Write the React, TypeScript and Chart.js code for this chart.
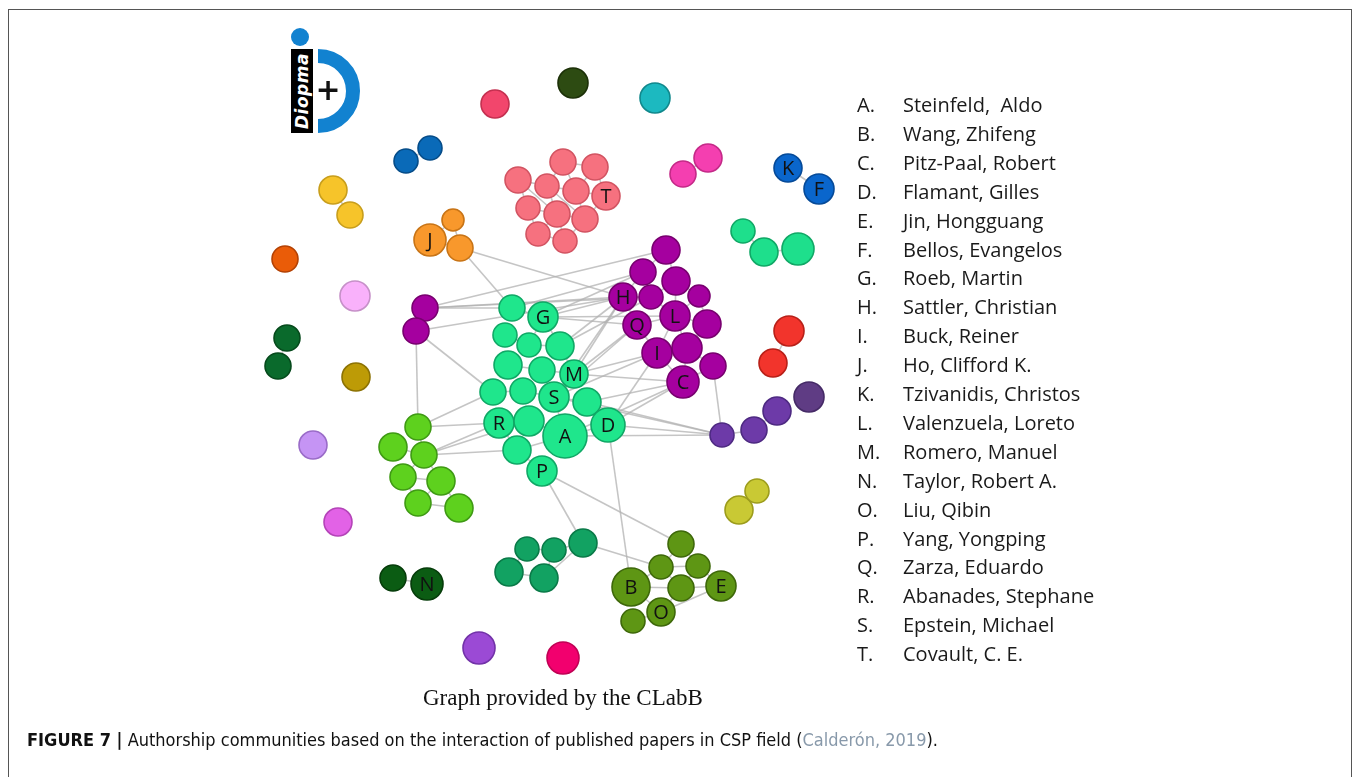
import React, { useEffect, useRef } from "react";
import { Chart, registerables } from "chart.js";
Chart.register(...registerables);

// [id, x, y, radius]  — single capital-letter ids carry a label
type NodeRow = [string, number, number, number];

const centralGreen: NodeRow[] = [
  ["c1", 512, 308, 13], ["G", 543, 317, 15], ["c2", 505, 335, 12], ["c3", 529, 345, 12],
  ["c4", 560, 346, 14], ["c5", 508, 365, 14], ["c6", 542, 370, 13], ["M", 574, 374, 14],
  ["c7", 493, 392, 13], ["c8", 523, 391, 13], ["S", 554, 397, 15], ["c9", 587, 402, 14],
  ["R", 499, 423, 15], ["c10", 529, 421, 15], ["A", 565, 436, 22], ["D", 608, 425, 17],
  ["c11", 517, 450, 14], ["P", 542, 471, 15],
];
const magenta: NodeRow[] = [
  ["m1", 666, 250, 14], ["m2", 643, 272, 13], ["m3", 676, 281, 14], ["H", 623, 297, 14],
  ["m4", 651, 297, 12], ["m5", 699, 296, 11], ["L", 675, 316, 15], ["Q", 637, 325, 14],
  ["m6", 707, 324, 14], ["I", 657, 353, 15], ["m7", 687, 348, 15], ["m8", 713, 366, 13],
  ["C", 683, 382, 16],
];
const magentaPair: NodeRow[] = [["lm1", 425, 308, 13], ["lm2", 416, 331, 13]];
const lightGreen: NodeRow[] = [
  ["lg1", 418, 427, 13], ["lg2", 393, 447, 14], ["lg3", 424, 455, 13], ["lg4", 403, 477, 13],
  ["lg5", 441, 481, 14], ["lg6", 418, 503, 13], ["lg7", 459, 508, 14],
];
const purpleChain: NodeRow[] = [["pu1", 722, 435, 12], ["pu2", 754, 430, 13], ["pu3", 777, 411, 14]];
const purpleDark: NodeRow[] = [["pu4", 809, 397, 15]];
const tealGreen: NodeRow[] = [
  ["tg1", 527, 549, 12], ["tg2", 554, 550, 12], ["tg3", 583, 543, 14], ["tg4", 509, 572, 14], ["tg5", 544, 578, 14],
];
const olive: NodeRow[] = [
  ["o1", 681, 544, 13], ["o2", 661, 567, 12], ["o3", 698, 566, 12], ["B", 631, 587, 19],
  ["o4", 681, 588, 13], ["E", 721, 586, 15], ["O", 661, 612, 14], ["o5", 633, 621, 12],
];
const orangeJ: NodeRow[] = [["J", 430, 240, 16], ["j1", 453, 220, 11], ["j2", 460, 248, 13]];
const salmon: NodeRow[] = [
  ["pk1", 563, 162, 13], ["pk2", 595, 167, 13], ["pk3", 518, 180, 13], ["pk4", 547, 186, 12],
  ["pk5", 576, 191, 13], ["T", 606, 196, 14], ["pk6", 528, 208, 12], ["pk7", 557, 214, 13],
  ["pk8", 585, 219, 13], ["pk9", 538, 234, 12], ["pk10", 565, 241, 12],
];
const blueKF: NodeRow[] = [["K", 788, 168, 14], ["F", 819, 189, 15]];
const mintTrio: NodeRow[] = [["t1", 743, 231, 12], ["t2", 764, 252, 14], ["t3", 798, 249, 16]];
const redPair: NodeRow[] = [["r1", 789, 331, 15], ["r2", 773, 363, 14]];
const pinkPair: NodeRow[] = [["pp1", 683, 174, 13], ["pp2", 708, 158, 14]];
const tealSingle: NodeRow[] = [["ts", 655, 98, 15]];
const darkGreenTop: NodeRow[] = [["dg", 573, 83, 15]];
const roseSingle: NodeRow[] = [["rs", 495, 104, 14]];
const bluePair: NodeRow[] = [["bp1", 406, 161, 12], ["bp2", 430, 148, 12]];
const yellowPair: NodeRow[] = [["y1", 333, 190, 14], ["y2", 350, 215, 13]];
const orangeSingle: NodeRow[] = [["os", 285, 259, 13]];
const lightPink: NodeRow[] = [["lp", 355, 296, 15]];
const forestPair: NodeRow[] = [["fp1", 287, 338, 13], ["fp2", 278, 366, 13]];
const ochre: NodeRow[] = [["oc", 356, 377, 14]];
const lavender: NodeRow[] = [["lv", 313, 445, 14]];
const orchid: NodeRow[] = [["or", 338, 522, 14]];
const darkGreenN: NodeRow[] = [["dn1", 393, 578, 13], ["N", 427, 584, 16]];
const violet: NodeRow[] = [["vi", 479, 648, 16]];
const hotPink: NodeRow[] = [["hp", 563, 658, 16]];
const yellowGreen: NodeRow[] = [["yg1", 739, 510, 14], ["yg2", 757, 491, 12]];

const edges: [string, string][] = [
  // between communities
  ["j2", "H"], ["j2", "c1"], ["lm1", "m1"], ["lm1", "H"], ["lm1", "c1"], ["lm1", "m4"],
  ["lm2", "H"], ["lm2", "c7"], ["lm2", "lg1"], ["lm1", "lm2"], ["c1", "m2"],
  ["G", "H"], ["G", "m2"], ["G", "Q"], ["G", "L"], ["M", "H"], ["M", "Q"], ["M", "I"], ["M", "C"],
  ["S", "H"], ["S", "Q"], ["S", "I"], ["c9", "C"], ["D", "C"], ["D", "I"], ["c4", "H"], ["c4", "m4"],
  ["A", "pu1"], ["D", "pu1"], ["c9", "pu1"], ["S", "pu1"], ["m8", "pu1"], ["A", "C"],
  ["pu1", "pu2"], ["pu2", "pu3"],
  ["lg1", "c7"], ["lg1", "R"], ["lg3", "R"], ["lg3", "c11"], ["lg3", "c10"],
  ["P", "tg3"], ["P", "o1"], ["D", "B"], ["tg3", "o2"],
  // central green internal
  ["c1", "G"], ["c2", "c3"], ["c3", "c4"], ["G", "c4"], ["G", "c3"], ["c5", "c6"], ["c6", "M"],
  ["c7", "c8"], ["c8", "S"], ["S", "c9"], ["R", "c10"], ["c10", "A"], ["A", "D"], ["c11", "P"],
  ["c11", "A"], ["M", "S"], ["c4", "M"], ["c6", "S"], ["R", "c11"], ["c9", "D"], ["S", "A"],
  // magenta internal
  ["m1", "m2"], ["m1", "m3"], ["m2", "H"], ["m2", "m4"], ["m3", "m4"], ["m3", "m5"], ["m3", "L"],
  ["H", "m4"], ["H", "Q"], ["m4", "L"], ["m5", "L"], ["m5", "m6"], ["L", "Q"], ["L", "m6"],
  ["Q", "I"], ["L", "I"], ["L", "m7"], ["m6", "m7"], ["I", "m7"], ["I", "C"], ["m7", "C"],
  ["m7", "m8"], ["m8", "C"],
  // light green internal
  ["lg1", "lg3"], ["lg2", "lg3"], ["lg3", "lg4"], ["lg4", "lg5"], ["lg5", "lg6"], ["lg6", "lg7"],
  ["lg3", "lg5"], ["lg5", "lg7"], ["lg4", "lg6"],
  // teal green internal
  ["tg1", "tg2"], ["tg2", "tg3"], ["tg4", "tg5"], ["tg2", "tg5"], ["tg3", "tg5"], ["tg1", "tg4"],
  // olive internal
  ["o2", "o3"], ["o2", "B"], ["o2", "o4"], ["o3", "o4"], ["o3", "E"], ["B", "o4"], ["o4", "E"],
  ["B", "O"], ["O", "o4"], ["O", "E"], ["o5", "O"], ["o1", "o2"], ["o1", "o3"],
  // salmon internal
  ["pk1", "pk4"], ["pk1", "pk5"], ["pk1", "pk2"], ["pk2", "pk5"], ["pk2", "T"], ["pk3", "pk4"],
  ["pk3", "pk6"], ["pk4", "pk5"], ["pk4", "pk7"], ["pk5", "T"], ["pk5", "pk8"], ["pk6", "pk7"],
  ["pk7", "pk8"], ["pk8", "T"], ["pk6", "pk9"], ["pk7", "pk9"], ["pk7", "pk10"], ["pk8", "pk10"],
  ["pk9", "pk10"], ["pk3", "pk7"], ["pk4", "pk8"],
  // pairs
  ["K", "F"], ["t1", "t2"], ["t2", "t3"], ["pp1", "pp2"], ["bp1", "bp2"], ["y1", "y2"],
  ["fp1", "fp2"], ["dn1", "N"], ["yg1", "yg2"], ["r1", "r2"], ["J", "j1"], ["J", "j2"], ["j1", "j2"],
];

const legendLetters = ["A", "B", "C", "D", "E", "F", "G", "H", "I", "J", "K", "L", "M", "N", "O", "P", "Q", "R", "S", "T"];
const legendNames = [
  "Steinfeld,\u00a0 Aldo", "Wang, Zhifeng", "Pitz-Paal, Robert", "Flamant, Gilles", "Jin, Hongguang",
  "Bellos, Evangelos", "Roeb, Martin", "Sattler, Christian", "Buck, Reiner", "Ho, Clifford K.",
  "Tzivanidis, Christos", "Valenzuela, Loreto", "Romero, Manuel", "Taylor, Robert A.", "Liu, Qibin",
  "Yang, Yongping", "Zarza, Eduardo", "Abanades, Stephane", "Epstein, Michael", "Covault, C. E.",
];

const groups: { rows: NodeRow[]; fill: string; border: string }[] = [
  { rows: centralGreen, fill: "#1fe68c", border: "#10a866" },
  { rows: magenta, fill: "#a5009f", border: "#78006f" },
  { rows: magentaPair, fill: "#a5009f", border: "#78006f" },
  { rows: lightGreen, fill: "#5ed11e", border: "#3f9a14" },
  { rows: purpleChain, fill: "#6d3aa8", border: "#4e2a82" },
  { rows: purpleDark, fill: "#5f3c84", border: "#452a66" },
  { rows: tealGreen, fill: "#12a262", border: "#0a7a48" },
  { rows: olive, fill: "#5e9614", border: "#3e680a" },
  { rows: orangeJ, fill: "#f8982c", border: "#c87416" },
  { rows: salmon, fill: "#f6717f", border: "#d25462" },
  { rows: blueKF, fill: "#0a66cc", border: "#064a98" },
  { rows: mintTrio, fill: "#1edf8c", border: "#10a866" },
  { rows: redPair, fill: "#f2342c", border: "#b82018" },
  { rows: pinkPair, fill: "#f43fb0", border: "#c42a88" },
  { rows: tealSingle, fill: "#1cb9c0", border: "#10888c" },
  { rows: darkGreenTop, fill: "#2d4b12", border: "#1c3008" },
  { rows: roseSingle, fill: "#f2466c", border: "#c43050" },
  { rows: bluePair, fill: "#0a6ab8", border: "#064c88" },
  { rows: yellowPair, fill: "#f6c42a", border: "#c89e1c" },
  { rows: orangeSingle, fill: "#ea5c08", border: "#b44204" },
  { rows: lightPink, fill: "#f9b1fb", border: "#c690c8" },
  { rows: forestPair, fill: "#0a6a2c", border: "#064a1c" },
  { rows: ochre, fill: "#bd9b06", border: "#8c7204" },
  { rows: lavender, fill: "#c594f4", border: "#9a6cc8" },
  { rows: orchid, fill: "#e262e6", border: "#b444b8" },
  { rows: darkGreenN, fill: "#0b5c13", border: "#063c0a" },
  { rows: violet, fill: "#9b4ad5", border: "#7232a8" },
  { rows: hotPink, fill: "#f2006e", border: "#c00054" },
  { rows: yellowGreen, fill: "#c9c934", border: "#9c9c1c" },
];

const labelPlugin = {
  id: "nodeLabels",
  afterDatasetsDraw(chart: any) {
    const ctx = chart.ctx;
    ctx.save();
    ctx.fillStyle = "#111";
    ctx.textAlign = "center";
    ctx.textBaseline = "middle";
    ctx.font = "20px 'Open Sans', sans-serif";
    chart.data.datasets.forEach((ds: any, di: number) => {
      if (ds.type !== "bubble") return;
      const meta = chart.getDatasetMeta(di);
      ds.data.forEach((p: any, i: number) => {
        if (/^[A-Z]$/.test(p.id)) {
          const el = meta.data[i];
          ctx.fillText(p.id, el.x, el.y + 1);
        }
      });
    });
    ctx.restore();
  },
};

function NetworkChart() {
  const ref = useRef<HTMLCanvasElement | null>(null);
  useEffect(() => {
    if (!ref.current) return;
    const lookup: Record<string, NodeRow> = {};
    groups.forEach((g) => g.rows.forEach((r) => (lookup[r[0]] = r)));
    const edgeSets = edges
      .filter(([a, b]) => lookup[a] && lookup[b])
      .map(([a, b]) => ({
        type: "line" as const,
        data: [
          { x: lookup[a][1], y: lookup[a][2] },
          { x: lookup[b][1], y: lookup[b][2] },
        ],
        borderColor: "rgba(178,178,178,0.75)",
        borderWidth: 1.6,
        pointRadius: 0,
        fill: false,
        order: 10,
      }));
    const bubbleSets = groups.map((g) => ({
      type: "bubble" as const,
      data: g.rows.map((r) => ({ id: r[0], x: r[1], y: r[2], r: r[3] })),
      backgroundColor: g.fill,
      borderColor: g.border,
      borderWidth: 1.6,
      order: 1,
    }));
    const chart = new Chart(ref.current, {
      type: "bubble",
      data: { datasets: [...bubbleSets, ...edgeSets] as any },
      options: {
        animation: false,
        responsive: false,
        events: [],
        layout: { padding: 0, autoPadding: false },
        plugins: { legend: { display: false }, tooltip: { enabled: false } },
        scales: {
          x: { type: "linear", min: 0, max: 1356, display: false },
          y: { type: "linear", min: 0, max: 777, reverse: true, display: false },
        },
      },
      plugins: [labelPlugin],
    });
    return () => chart.destroy();
  }, []);
  return (
    <canvas ref={ref} width={1356} height={777} style={{ position: "absolute", left: 0, top: 0 }} />
  );
}

function Logo() {
  const blue = "#1282d0";
  return (
    <>
      <div style={{ position: "absolute", left: 291, top: 28, width: 18, height: 18, borderRadius: "50%", background: blue }} />
      <div style={{ position: "absolute", left: 291, top: 49, width: 22, height: 84, background: "#000" }}>
        <div
          style={{
            position: "absolute", left: 11, top: 42, width: 84, height: 22, lineHeight: "22px",
            transform: "translate(-50%, -50%) rotate(-90deg)", color: "#fff", fontFamily: "'DejaVu Sans', sans-serif",
            fontWeight: 700, fontStyle: "italic", fontSize: 17, textAlign: "center", letterSpacing: 0.5,
          }}
        >
          Diopma
        </div>
      </div>
      <div style={{ position: "absolute", left: 318, top: 49, width: 44, height: 84, overflow: "hidden" }}>
        <div style={{ position: "absolute", left: -42, top: 0, width: 84, height: 84, boxSizing: "border-box", borderRadius: "50%", border: `14px solid ${blue}` }} />
      </div>
      <div style={{ position: "absolute", left: 314, top: 72, width: 28, height: 36, lineHeight: "36px", textAlign: "center", fontFamily: "'DejaVu Sans', sans-serif", fontWeight: 700, fontSize: 30, color: "#111" }}>+</div>
    </>
  );
}

export default function App() {
  return (
    <div style={{ position: "absolute", left: 0, top: 0, width: 1356, height: 777, overflow: "hidden", background: "#fff" }}>
      <div style={{ position: "absolute", left: 8, top: 9, width: 1344, height: 820, border: "1px solid #555", boxSizing: "border-box" }} />
      <NetworkChart />
      <Logo />
      <div style={{ position: "absolute", left: 0, top: 0 }}>
        {legendLetters.map((l, i) => (
          <div
            key={l}
            style={{
              position: "absolute", left: 857, top: 90 + i * 28.9, height: 29, lineHeight: "29px", whiteSpace: "nowrap",
              fontFamily: "'Open Sans', sans-serif", fontSize: 20, color: "#1a1a1a",
            }}
          >
            <span style={{ display: "inline-block", width: 46 }}>{l}.</span>
            <span>{legendNames[i]}</span>
          </div>
        ))}
      </div>
      <div style={{ position: "absolute", left: 423, top: 685, whiteSpace: "nowrap", fontFamily: "'Liberation Serif', 'Times New Roman', serif", fontSize: 23, color: "#111" }}>
        Graph provided by the CLabB
      </div>
      <div style={{ position: "absolute", left: 27, top: 729, whiteSpace: "nowrap", fontFamily: "'Liberation Sans Narrow', 'DejaVu Sans Condensed', 'Liberation Sans', sans-serif", fontSize: 18, color: "#111" }}>
        <b>FIGURE 7 |</b> Authorship communities based on the interaction of published papers in CSP field (<span style={{ color: "#8899aa" }}>Calderón, 2019</span>).
      </div>
    </div>
  );
}
